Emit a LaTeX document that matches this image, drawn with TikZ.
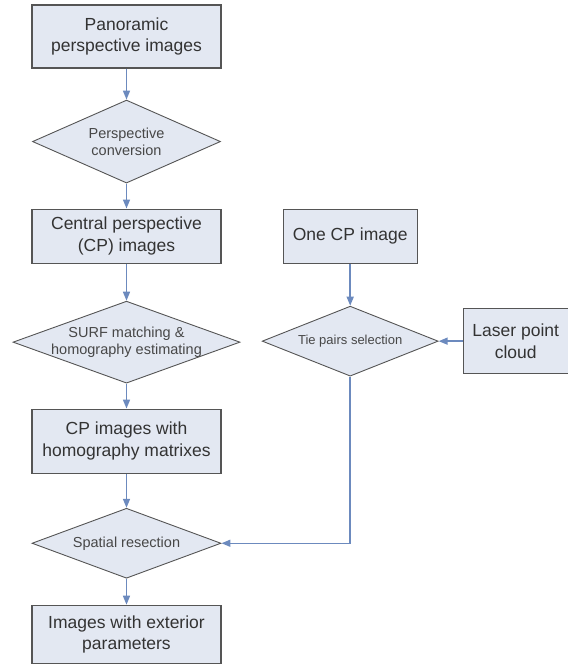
\documentclass[tikz,border=0pt]{standalone}
\usepackage{fontspec}
\setmainfont{Liberation Sans}
\usepackage{tikz}
\usetikzlibrary{arrows.meta,positioning,shapes.geometric}
\definecolor{boxfill}{RGB}{227, 232, 242}
\definecolor{boxline}{RGB}{85, 85, 85}
\definecolor{flowblue}{RGB}{108, 138, 190}
\definecolor{textgray}{RGB}{51, 51, 51}

\begin{document}
\begin{tikzpicture}[x=1pt, y=1pt, >={Triangle[length=9pt,width=7pt]},
  stepbox/.style={draw=boxline, fill=boxfill, line width=1.2pt, inner sep=0pt,
        minimum width=189pt, align=center, text=textgray,
        font=\fontsize{17.5}{21.5}\selectfont},
  choice/.style={diamond, aspect=2.5, draw=boxline, fill=boxfill, line width=0.9pt, inner sep=0pt,
        align=center, text=textgray!90, font=\fontsize{14.5}{17}\selectfont},
  flow/.style={->, draw=flowblue, line width=1.5pt}]
  \useasboundingbox (0,0) rectangle (568,-665);
  % main column
  \node[stepbox, minimum height=63pt] (pano) at (126.5,-36.5) {Panoramic\\perspective images};
  \node[choice, minimum width=188pt, minimum height=83pt, below=31pt of pano] (conv)
        {Perspective\\conversion};
  \node[stepbox, minimum height=54pt, below=25pt of conv] (cpimg) {Central perspective\\(CP) images};
  \node[choice, minimum width=227pt, minimum height=82pt, below=37pt of cpimg] (surf)
        {\makebox[0pt]{SURF matching \&}\\\makebox[0pt]{homography estimating}};
  \node[stepbox, minimum height=64pt, below=25pt of surf] (homog) {CP images with\\homography matrixes};
  \node[choice, minimum width=189pt, minimum height=70pt, below=34pt of homog] (resect)
        {Spatial resection};
  \node[stepbox, minimum height=58pt, below=26pt of resect] (extpar) {Images with exterior\\parameters};
  % side column
  \node[stepbox, minimum width=134pt, minimum height=54pt, right=61pt of cpimg] (onecp) {One CP image};
  \node[choice, minimum width=176pt, minimum height=70pt, below=42pt of onecp,
        font=\fontsize{13}{16}\selectfont] (tie) {Tie pairs selection};
  \node[stepbox, minimum width=105pt, minimum height=65pt, right=24pt of tie] (laser)
        {Laser point\\cloud};
  % connectors
  \draw[flow] (pano) -- (conv);
  \draw[flow] (conv) -- (cpimg);
  \draw[flow] (cpimg) -- (surf);
  \draw[flow] (surf) -- (homog);
  \draw[flow] (homog) -- (resect);
  \draw[flow] (resect) -- (extpar);
  \draw[flow] (onecp) -- (tie);
  \draw[flow] (laser) -- (tie);
  \draw[flow] (tie.south) |- (resect.east);
\end{tikzpicture}
\end{document}
